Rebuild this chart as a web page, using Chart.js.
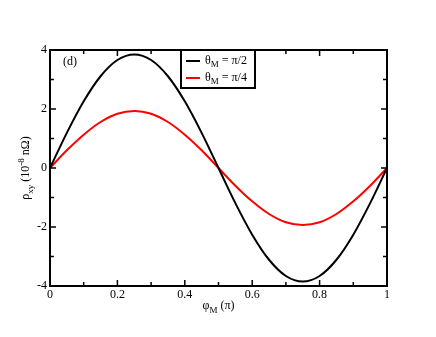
<!DOCTYPE html>
<html>
<head>
<meta charset="utf-8">
<script src="https://cdn.jsdelivr.net/npm/chart.js@4"></script>
<style>
  body { margin: 0; background: #fff; }
  #wrap { width: 436px; height: 337px; }
</style>
</head>
<body>
<div id="wrap"><canvas id="myChart" width="436" height="337"></canvas></div>
<script>
// phi_M values (units of pi)
const phiValues = [0, 0.05, 0.1, 0.15, 0.2, 0.25, 0.3, 0.35, 0.4, 0.45, 0.5,
  0.55, 0.6, 0.65, 0.7, 0.75, 0.8, 0.85, 0.9, 0.95, 1];
// rho_xy for theta_M = pi/2
const rhoHalf = [0, 1.19, 2.26, 3.11, 3.66, 3.85, 3.66, 3.11, 2.26, 1.19, 0,
  -1.19, -2.26, -3.11, -3.66, -3.85, -3.66, -3.11, -2.26, -1.19, 0];
// rho_xy for theta_M = pi/4
const rhoQuarter = [0, 0.6, 1.13, 1.56, 1.84, 1.93, 1.84, 1.56, 1.13, 0.6, 0,
  -0.6, -1.13, -1.56, -1.84, -1.93, -1.84, -1.56, -1.13, -0.6, 0];
const xTicks = [0, 0.2, 0.4, 0.6, 0.8, 1];
const xMinor = [0.1, 0.3, 0.5, 0.7, 0.9];
const yTicks = [-4, -2, 0, 2, 4];
const yMinor = [-3, -1, 1, 3];

const FONT = '"Liberation Serif", "DejaVu Serif", serif';

function toPoints(xs, ys) {
  return xs.map((x, i) => ({ x: x, y: ys[i] }));
}

// draw a run of text pieces: [text, 'n'|'sub'|'sup']
function richText(ctx, parts, x, y, size) {
  let w = 0;
  parts.forEach(p => {
    ctx.font = (p[1] === 'n' ? size : size * 0.75) + 'px ' + FONT;
    w += ctx.measureText(p[0]).width;
  });
  let cx = x - w / 2;
  parts.forEach(p => {
    let s = p[1] === 'n' ? size : size * 0.75;
    ctx.font = s + 'px ' + FONT;
    let dy = p[1] === 'sub' ? size * 0.3 : (p[1] === 'sup' ? -size * 0.4 : 0);
    ctx.fillText(p[0], cx, y + dy);
    cx += ctx.measureText(p[0]).width;
  });
}

const framePlugin = {
  id: 'frame',
  afterDraw(chart) {
    const ctx = chart.ctx;
    const a = chart.chartArea;
    const xs = chart.scales.x, ys = chart.scales.y;
    ctx.save();
    ctx.strokeStyle = '#000';
    ctx.fillStyle = '#000';
    ctx.lineWidth = 2;
    ctx.strokeRect(a.left, a.top, a.right - a.left, a.bottom - a.top);

    // inward ticks
    ctx.lineWidth = 1.5;
    ctx.beginPath();
    xTicks.concat(xMinor).forEach(v => {
      let px = xs.getPixelForValue(v);
      let len = xTicks.includes(v) ? 6 : 4;
      ctx.moveTo(px, a.bottom); ctx.lineTo(px, a.bottom - len);
      ctx.moveTo(px, a.top); ctx.lineTo(px, a.top + len);
    });
    yTicks.concat(yMinor).forEach(v => {
      let py = ys.getPixelForValue(v);
      let len = yTicks.includes(v) ? 6 : 4;
      ctx.moveTo(a.left, py); ctx.lineTo(a.left + len, py);
      ctx.moveTo(a.right, py); ctx.lineTo(a.right - len, py);
    });
    ctx.stroke();

    // tick labels
    ctx.font = '12px ' + FONT;
    ctx.textAlign = 'center';
    ctx.textBaseline = 'top';
    xTicks.forEach(v => {
      ctx.fillText(String(v), xs.getPixelForValue(v), a.bottom + 3);
    });
    ctx.textAlign = 'right';
    ctx.textBaseline = 'middle';
    yTicks.forEach(v => {
      ctx.fillText(String(v), a.left - 3, ys.getPixelForValue(v));
    });

    // axis titles
    ctx.textAlign = 'left';
    ctx.textBaseline = 'alphabetic';
    richText(ctx, [['\u03c6', 'n'], ['M', 'sub'], [' (\u03c0)', 'n']], (a.left + a.right) / 2, a.bottom + 23, 12);
    ctx.save();
    ctx.translate(29, (a.top + a.bottom) / 2);
    ctx.rotate(-Math.PI / 2);
    richText(ctx, [['\u03c1', 'n'], ['xy', 'sub'], [' (10', 'n'], ['-8', 'sup'], [' n\u03a9)', 'n']], 0, 0, 12);
    ctx.restore();

    // panel label
    ctx.font = '12px ' + FONT;
    ctx.fillText('(d)', a.left + 13, a.top + 15);

    // legend box
    const lx = 181, ly = a.top, lw = 74, lh = 38;
    ctx.fillStyle = '#fff';
    ctx.fillRect(lx, ly, lw, lh);
    ctx.lineWidth = 2;
    ctx.strokeStyle = '#000';
    ctx.strokeRect(lx, ly, lw, lh);
    const entries = [['#000', '\u03c0/2'], ['#ff0000', '\u03c0/4']];
    entries.forEach((e, i) => {
      let yy = ly + 11 + i * 17;
      ctx.strokeStyle = e[0];
      ctx.lineWidth = 2;
      ctx.beginPath();
      ctx.moveTo(lx + 5, yy); ctx.lineTo(lx + 19, yy);
      ctx.stroke();
      ctx.fillStyle = '#000';
      ctx.textBaseline = 'middle';
      let parts = [['\u03b8', 'n'], ['M', 'sub'], [' = ' + e[1], 'n']];
      let w = 0;
      parts.forEach(p => {
        ctx.font = (p[1] === 'n' ? 12 : 9) + 'px ' + FONT;
        w += ctx.measureText(p[0]).width;
      });
      richText(ctx, parts, lx + 24 + w / 2, yy, 12);
    });
    ctx.restore();
  }
};

const chrt = document.getElementById('myChart');

new Chart(chrt, {
  type: 'scatter',
  data: {
    datasets: [{
      label: '\u03b8M = \u03c0/2',
      data: toPoints(phiValues, rhoHalf),
      showLine: true,
      borderColor: '#000',
      borderWidth: 2,
      pointRadius: 0,
      cubicInterpolationMode: 'monotone'
    }, {
      label: '\u03b8M = \u03c0/4',
      data: toPoints(phiValues, rhoQuarter),
      showLine: true,
      borderColor: '#ff0000',
      borderWidth: 2,
      pointRadius: 0,
      cubicInterpolationMode: 'monotone'
    }]
  },
  options: {
    responsive: false,
    animation: false,
    layout: { padding: { left: 50, right: 49, top: 50, bottom: 51 } },
    plugins: {
      legend: { display: false },
      tooltip: { enabled: false }
    },
    scales: {
      x: { type: 'linear', min: 0, max: 1, display: false },
      y: { type: 'linear', min: -4, max: 4, display: false }
    }
  },
  plugins: [framePlugin]
});
</script>
</body>
</html>
